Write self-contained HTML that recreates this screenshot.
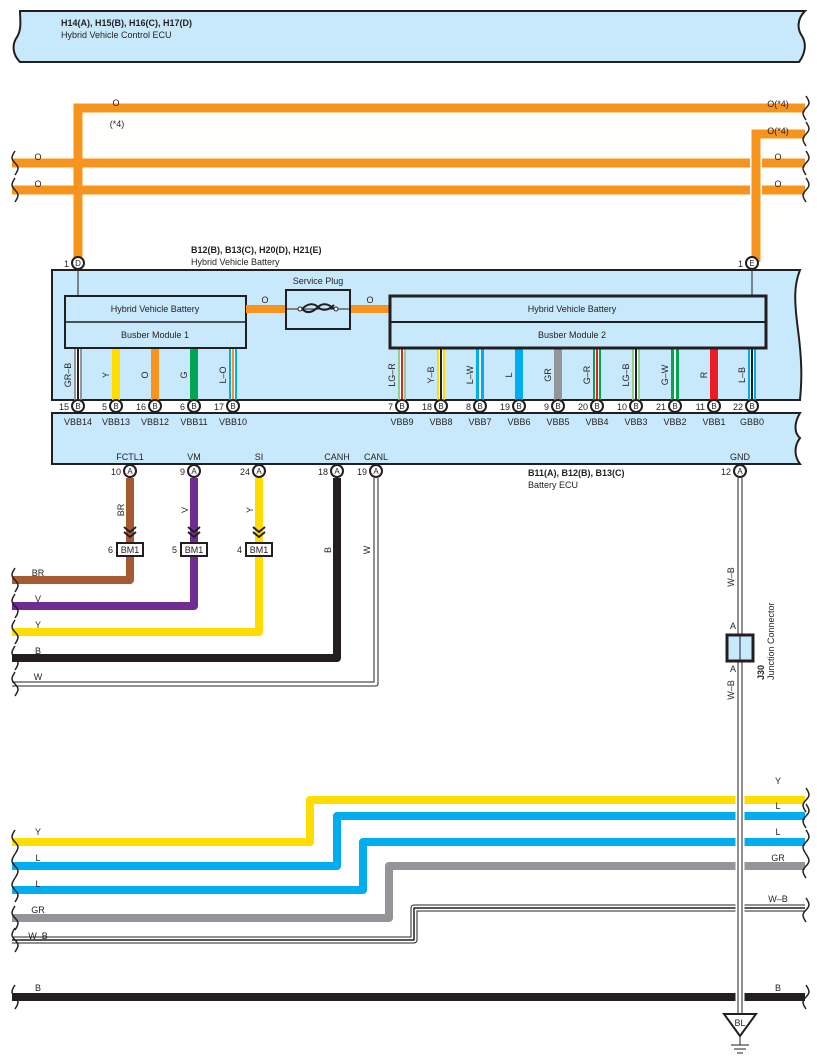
<!DOCTYPE html>
<html><head><meta charset="utf-8"><style>
html,body{margin:0;padding:0;background:#fff}
svg{display:block}
text{font-family:"Liberation Sans",Arial,sans-serif;font-size:9px;fill:#231f20}
.b{font-weight:bold}
.c{text-anchor:middle}
.e{text-anchor:end}
</style></head><body>
<svg width="817" height="1063" viewBox="0 0 817 1063" xmlns="http://www.w3.org/2000/svg">
<!-- Top ECU -->
<path d="M20,11 H805 c-8,8 -8,18 -3,25 c5,8 3,18 -3,26 H20 c-8,-8 -8,-18 -3,-25 c5,-8 3,-18 3,-26 Z" fill="#c8e9fb" stroke="#231f20" stroke-width="2"/>
<text x="61" y="26" class="b">H14(A), H15(B), H16(C), H17(D)</text>
<text x="61" y="38">Hybrid Vehicle Control ECU</text>

<!-- Orange wires top -->
<g stroke="#f7941d" stroke-width="9" fill="none">
<path d="M805,108 H78 V262"/>
<path d="M805,134 H756 V262"/>
<path d="M12,163 H750 M762,163 H805"/>
<path d="M12,190 H750 M762,190 H805"/>
</g>
<path d="M78,150 V200" stroke="#f7941d" stroke-width="9"/>
<text x="116" y="106" class="c">O</text>
<text x="117" y="127" class="c">(*4)</text>
<text x="778" y="107" class="c">O(*4)</text>
<text x="778" y="134" class="c">O(*4)</text>
<text x="38" y="160" class="c">O</text><text x="778" y="160" class="c">O</text>
<text x="38" y="187" class="c">O</text><text x="778" y="187" class="c">O</text>
<g fill="none" stroke="#231f20" stroke-width="1.5">
<path d="M15,151 c-4,6 -4,8 0,12 c4,4 4,6 0,12"/>
<path d="M15,178 c-4,6 -4,8 0,12 c4,4 4,6 0,12"/>
<path d="M806,96 c4,6 4,8 0,12 c-4,4 -4,6 0,12"/>
<path d="M806,122 c4,6 4,8 0,12 c-4,4 -4,6 0,12"/>
<path d="M806,151 c4,6 4,8 0,12 c-4,4 -4,6 0,12"/>
<path d="M806,178 c4,6 4,8 0,12 c-4,4 -4,6 0,12"/>
</g>

<!-- Battery -->
<text x="191" y="253" class="b">B12(B), B13(C), H20(D), H21(E)</text>
<text x="191" y="265">Hybrid Vehicle Battery</text>
<path d="M52,270 H800 c-6,15 -6,30 -2,60 c4,30 4,50 2,70 H52 Z" fill="#c8e9fb" stroke="#231f20" stroke-width="2"/>
<line x1="78" y1="268" x2="78" y2="296" stroke="#231f20"/>
<line x1="752" y1="268" x2="752" y2="296" stroke="#231f20"/>

<!-- module wires -->
<g stroke-width="8" fill="none">
<!-- module1 -->
<path d="M78,348 V400" stroke="#939598"/><path d="M78,348 V400" stroke="#fff" stroke-width="4"/><path d="M78,348 V400" stroke="#231f20" stroke-width="2"/>
<path d="M116,348 V400" stroke="#ffdd00"/>
<path d="M155,348 V400" stroke="#f7941d"/>
<path d="M194,348 V400" stroke="#00a651"/>
<path d="M233,348 V400" stroke="#00aeef"/><path d="M233,348 V400" stroke="#fff" stroke-width="4"/><path d="M233,348 V400" stroke="#f7941d" stroke-width="2"/>
<!-- module2 -->
<path d="M402,348 V400" stroke="#8dd18d"/><path d="M402,348 V400" stroke="#fff" stroke-width="4"/><path d="M402,348 V400" stroke="#ed1c24" stroke-width="2"/>
<path d="M441,348 V400" stroke="#ffdd00"/><path d="M441,348 V400" stroke="#fff" stroke-width="4"/><path d="M441,348 V400" stroke="#231f20" stroke-width="2"/>
<path d="M480,348 V400" stroke="#00aeef"/><path d="M480,348 V400" stroke="#fff" stroke-width="2"/>
<path d="M519,348 V400" stroke="#00aeef"/>
<path d="M558,348 V400" stroke="#939598"/>
<path d="M597,348 V400" stroke="#00a651"/><path d="M597,348 V400" stroke="#fff" stroke-width="4"/><path d="M597,348 V400" stroke="#ed1c24" stroke-width="2"/>
<path d="M636,348 V400" stroke="#8dd18d"/><path d="M636,348 V400" stroke="#fff" stroke-width="4"/><path d="M636,348 V400" stroke="#231f20" stroke-width="2"/>
<path d="M675,348 V400" stroke="#00a651"/><path d="M675,348 V400" stroke="#fff" stroke-width="2"/>
<path d="M714,348 V400" stroke="#ed1c24"/>
<path d="M752,348 V400" stroke="#00aeef"/><path d="M752,348 V400" stroke="#fff" stroke-width="4"/><path d="M752,348 V400" stroke="#231f20" stroke-width="2"/>
</g>
<g>
<text transform="translate(71,375) rotate(-90)" class="c">GR–B</text>
<text transform="translate(109,375) rotate(-90)" class="c">Y</text>
<text transform="translate(148,375) rotate(-90)" class="c">O</text>
<text transform="translate(187,375) rotate(-90)" class="c">G</text>
<text transform="translate(226,375) rotate(-90)" class="c">L–O</text>
<text transform="translate(395,375) rotate(-90)" class="c">LG–R</text>
<text transform="translate(434,375) rotate(-90)" class="c">Y–B</text>
<text transform="translate(473,375) rotate(-90)" class="c">L–W</text>
<text transform="translate(512,375) rotate(-90)" class="c">L</text>
<text transform="translate(551,375) rotate(-90)" class="c">GR</text>
<text transform="translate(590,375) rotate(-90)" class="c">G–R</text>
<text transform="translate(629,375) rotate(-90)" class="c">LG–B</text>
<text transform="translate(668,375) rotate(-90)" class="c">G–W</text>
<text transform="translate(707,375) rotate(-90)" class="c">R</text>
<text transform="translate(745,375) rotate(-90)" class="c">L–B</text>
</g>

<!-- Module boxes -->
<rect x="65" y="296" width="181" height="52" fill="#c8e9fb" stroke="#231f20" stroke-width="2"/>
<line x1="65" y1="322" x2="246" y2="322" stroke="#231f20" stroke-width="1.5"/>
<text x="155" y="312" class="c">Hybrid Vehicle Battery</text>
<text x="155" y="338" class="c">Busber Module 1</text>
<path d="M246,309 H286 M350,309 H390" stroke="#f7941d" stroke-width="8"/>
<text x="265" y="303" class="c">O</text><text x="370" y="303" class="c">O</text>
<text x="318" y="284" class="c">Service Plug</text>
<rect x="286" y="290" width="64" height="39" fill="#c8e9fb" stroke="#231f20" stroke-width="2"/>
<line x1="286" y1="309" x2="350" y2="309" stroke="#231f20"/>
<path d="M302,309 c6,-6 12,-6 16,-2 c4,4 10,4 16,-2 M302,309 c6,6 12,2 16,-2 c4,-4 10,-4 16,2" stroke="#231f20" stroke-width="2" fill="none"/>
<circle cx="300" cy="309" r="2" fill="#fff" stroke="#231f20"/><circle cx="336" cy="309" r="2" fill="#fff" stroke="#231f20"/>
<rect x="390" y="296" width="376" height="52" fill="#c8e9fb" stroke="#231f20" stroke-width="3"/>
<line x1="390" y1="322" x2="766" y2="322" stroke="#231f20" stroke-width="2"/>
<text x="572" y="312" class="c">Hybrid Vehicle Battery</text>
<text x="572" y="338" class="c">Busber Module 2</text>

<!-- Battery ECU -->
<path d="M52,413 H800 c-6,10 -6,20 0,25 c-6,8 -6,18 0,26 H52 Z" fill="#c8e9fb" stroke="#231f20" stroke-width="2"/>
<g class="c">
<text x="78" y="425" class="c">VBB14</text><text x="116" y="425" class="c">VBB13</text><text x="155" y="425" class="c">VBB12</text><text x="194" y="425" class="c">VBB11</text><text x="233" y="425" class="c">VBB10</text>
<text x="402" y="425" class="c">VBB9</text><text x="441" y="425" class="c">VBB8</text><text x="480" y="425" class="c">VBB7</text><text x="519" y="425" class="c">VBB6</text><text x="558" y="425" class="c">VBB5</text><text x="597" y="425" class="c">VBB4</text><text x="636" y="425" class="c">VBB3</text><text x="675" y="425" class="c">VBB2</text><text x="714" y="425" class="c">VBB1</text><text x="752" y="425" class="c">GBB0</text>
<text x="130" y="460" class="c">FCTL1</text><text x="194" y="460" class="c">VM</text><text x="259" y="460" class="c">SI</text><text x="337" y="460" class="c">CANH</text><text x="376" y="460" class="c">CANL</text><text x="740" y="460" class="c">GND</text>
</g>
<text x="528" y="476" class="b">B11(A), B12(B), B13(C)</text>
<text x="528" y="488">Battery ECU</text>

<!-- lower wires -->
<g fill="none" stroke-linejoin="round">
<path d="M130,478 V580 H12" stroke="#a65a32" stroke-width="8"/>
<path d="M194,478 V606 H12" stroke="#6f2c91" stroke-width="8"/>
<path d="M259,478 V632 H12" stroke="#ffdd00" stroke-width="8"/>
<path d="M337,478 V658 H12" stroke="#231f20" stroke-width="8"/>
<path d="M376,478 V684 H12" stroke="#231f20" stroke-width="5"/>
<path d="M376,478 V684 H12" stroke="#fff" stroke-width="3"/>
<path d="M740,478 V1015" stroke="#231f20" stroke-width="5"/>
<path d="M740,478 V1015" stroke="#fff" stroke-width="3"/>
</g>
<g fill="none" stroke="#231f20" stroke-width="2">
<path d="M124,527 l6,5 l6,-5 M124,532 l6,5 l6,-5"/>
<path d="M188,527 l6,5 l6,-5 M188,532 l6,5 l6,-5"/>
<path d="M253,527 l6,5 l6,-5 M253,532 l6,5 l6,-5"/>
</g>
<g>
<rect x="117" y="543" width="26" height="13" fill="#fff" stroke="#231f20" stroke-width="2"/><text x="130" y="553" class="c">BM1</text><text x="113" y="553" class="e">6</text>
<rect x="181" y="543" width="26" height="13" fill="#fff" stroke="#231f20" stroke-width="2"/><text x="194" y="553" class="c">BM1</text><text x="177" y="553" class="e">5</text>
<rect x="246" y="543" width="26" height="13" fill="#fff" stroke="#231f20" stroke-width="2"/><text x="259" y="553" class="c">BM1</text><text x="242" y="553" class="e">4</text>
</g>
<text transform="translate(124,510) rotate(-90)" class="c">BR</text>
<text transform="translate(188,510) rotate(-90)" class="c">V</text>
<text transform="translate(253,510) rotate(-90)" class="c">Y</text>
<text transform="translate(331,550) rotate(-90)" class="c">B</text>
<text transform="translate(370,550) rotate(-90)" class="c">W</text>
<text x="38" y="576" class="c">BR</text><text x="38" y="602" class="c">V</text><text x="38" y="628" class="c">Y</text><text x="38" y="654" class="c">B</text><text x="38" y="680" class="c">W</text>
<g fill="none" stroke="#231f20" stroke-width="1.5">
<path d="M15,568 c-4,6 -4,8 0,12 c4,4 4,6 0,12"/>
<path d="M15,594 c-4,6 -4,8 0,12 c4,4 4,6 0,12"/>
<path d="M15,620 c-4,6 -4,8 0,12 c4,4 4,6 0,12"/>
<path d="M15,646 c-4,6 -4,8 0,12 c4,4 4,6 0,12"/>
<path d="M15,672 c-4,6 -4,8 0,12 c4,4 4,6 0,12"/>
</g>

<!-- J30 -->
<text transform="translate(734,577) rotate(-90)" class="c">W–B</text>
<text transform="translate(734,690) rotate(-90)" class="c">W–B</text>
<text x="733" y="629" class="c">A</text><text x="733" y="672" class="c">A</text>
<rect x="727" y="635" width="26" height="26" fill="#c8e9fb" stroke="#231f20" stroke-width="3"/>
<line x1="740" y1="635" x2="740" y2="661" stroke="#231f20"/>
<text transform="translate(764,680) rotate(-90)" class="b">J30</text>
<text transform="translate(774,680) rotate(-90)">Junction Connector</text>

<!-- Pins -->
<g fill="#fff" stroke="#231f20" stroke-width="2">
<circle cx="78" cy="263" r="6"/><circle cx="752" cy="263" r="6"/>
<circle cx="78" cy="406" r="6"/><circle cx="116" cy="406" r="6"/><circle cx="155" cy="406" r="6"/><circle cx="194" cy="406" r="6"/><circle cx="233" cy="406" r="6"/>
<circle cx="402" cy="406" r="6"/><circle cx="441" cy="406" r="6"/><circle cx="480" cy="406" r="6"/><circle cx="519" cy="406" r="6"/><circle cx="558" cy="406" r="6"/><circle cx="597" cy="406" r="6"/><circle cx="636" cy="406" r="6"/><circle cx="675" cy="406" r="6"/><circle cx="714" cy="406" r="6"/><circle cx="752" cy="406" r="6"/>
<circle cx="130" cy="471" r="6"/><circle cx="194" cy="471" r="6"/><circle cx="259" cy="471" r="6"/><circle cx="337" cy="471" r="6"/><circle cx="376" cy="471" r="6"/><circle cx="740" cy="471" r="6"/>
</g>
<g style="font-size:8px">
<text x="78" y="266" class="c" style="font-size:8px">D</text><text x="69" y="267" class="e">1</text>
<text x="752" y="266" class="c" style="font-size:8px">E</text><text x="743" y="267" class="e">1</text>
<text x="78" y="409" class="c" style="font-size:8px">B</text><text x="69" y="410" class="e">15</text>
<text x="116" y="409" class="c" style="font-size:8px">B</text><text x="107" y="410" class="e">5</text>
<text x="155" y="409" class="c" style="font-size:8px">B</text><text x="146" y="410" class="e">16</text>
<text x="194" y="409" class="c" style="font-size:8px">B</text><text x="185" y="410" class="e">6</text>
<text x="233" y="409" class="c" style="font-size:8px">B</text><text x="224" y="410" class="e">17</text>
<text x="402" y="409" class="c" style="font-size:8px">B</text><text x="393" y="410" class="e">7</text>
<text x="441" y="409" class="c" style="font-size:8px">B</text><text x="432" y="410" class="e">18</text>
<text x="480" y="409" class="c" style="font-size:8px">B</text><text x="471" y="410" class="e">8</text>
<text x="519" y="409" class="c" style="font-size:8px">B</text><text x="510" y="410" class="e">19</text>
<text x="558" y="409" class="c" style="font-size:8px">B</text><text x="549" y="410" class="e">9</text>
<text x="597" y="409" class="c" style="font-size:8px">B</text><text x="588" y="410" class="e">20</text>
<text x="636" y="409" class="c" style="font-size:8px">B</text><text x="627" y="410" class="e">10</text>
<text x="675" y="409" class="c" style="font-size:8px">B</text><text x="666" y="410" class="e">21</text>
<text x="714" y="409" class="c" style="font-size:8px">B</text><text x="705" y="410" class="e">11</text>
<text x="752" y="409" class="c" style="font-size:8px">B</text><text x="743" y="410" class="e">22</text>
<text x="130" y="474" class="c" style="font-size:8px">A</text><text x="121" y="475" class="e">10</text>
<text x="194" y="474" class="c" style="font-size:8px">A</text><text x="185" y="475" class="e">9</text>
<text x="259" y="474" class="c" style="font-size:8px">A</text><text x="250" y="475" class="e">24</text>
<text x="337" y="474" class="c" style="font-size:8px">A</text><text x="328" y="475" class="e">18</text>
<text x="376" y="474" class="c" style="font-size:8px">A</text><text x="367" y="475" class="e">19</text>
<text x="740" y="474" class="c" style="font-size:8px">A</text><text x="731" y="475" class="e">12</text>
</g>

<!-- Bottom bus -->
<g fill="none" stroke-linejoin="round">
<path d="M805,800 H310 V842 H12" stroke="#ffdd00" stroke-width="8"/>
<path d="M805,816 H337 V866 H12" stroke="#00aeef" stroke-width="8"/>
<path d="M805,842 H363 V890 H12" stroke="#00aeef" stroke-width="8"/>
<path d="M805,866 H389 V918 H12" stroke="#939598" stroke-width="8"/>
<path d="M805,908 H414 V940 H12" stroke="#231f20" stroke-width="7"/>
<path d="M805,908 H414 V940 H12" stroke="#fff" stroke-width="5"/>
<path d="M805,908 H414 V940 H12" stroke="#231f20" stroke-width="1.5"/>
<path d="M12,997 H805" stroke="#231f20" stroke-width="8"/>
</g>
<path d="M740,780 V1015" stroke="#fff" stroke-width="9"/>
<path d="M740,780 V1015" stroke="#231f20" stroke-width="5"/>
<path d="M740,780 V1015" stroke="#fff" stroke-width="3"/>
<text x="778" y="784" class="c">Y</text><text x="778" y="809" class="c">L</text><text x="778" y="835" class="c">L</text><text x="778" y="861" class="c">GR</text><text x="778" y="902" class="c">W–B</text><text x="778" y="991" class="c">B</text>
<text x="38" y="835" class="c">Y</text><text x="38" y="861" class="c">L</text><text x="38" y="887" class="c">L</text><text x="38" y="913" class="c">GR</text><text x="38" y="939" class="c">W–B</text><text x="38" y="991" class="c">B</text>
<g fill="none" stroke="#231f20" stroke-width="1.5">
<path d="M15,830 c-4,6 -4,8 0,12 c4,4 4,6 0,12"/>
<path d="M15,854 c-4,6 -4,8 0,12 c4,4 4,6 0,12"/>
<path d="M15,878 c-4,6 -4,8 0,12 c4,4 4,6 0,12"/>
<path d="M15,906 c-4,6 -4,8 0,12 c4,4 4,6 0,12"/>
<path d="M15,928 c-4,6 -4,8 0,12 c4,4 4,6 0,12"/>
<path d="M15,985 c-4,6 -4,8 0,12 c4,4 4,6 0,12"/>
<path d="M806,788 c4,6 4,8 0,12 c-4,4 -4,6 0,12"/>
<path d="M806,804 c4,6 4,8 0,12 c-4,4 -4,6 0,12"/>
<path d="M806,830 c4,6 4,8 0,12 c-4,4 -4,6 0,12"/>
<path d="M806,854 c4,6 4,8 0,12 c-4,4 -4,6 0,12"/>
<path d="M806,898 c4,6 4,8 0,12 c-4,4 -4,6 0,12"/>
<path d="M806,985 c4,6 4,8 0,12 c-4,4 -4,6 0,12"/>
</g>
<!-- ground -->
<path d="M724,1014 H756 L740,1036 Z" fill="#fff" stroke="#231f20" stroke-width="2"/>
<text x="740" y="1026" class="c">BL</text>
<path d="M740,1036 V1045 M731,1045 H749 M734,1049 H746 M737,1053 H743" stroke="#231f20" stroke-width="1"/>
</svg>
</body></html>
